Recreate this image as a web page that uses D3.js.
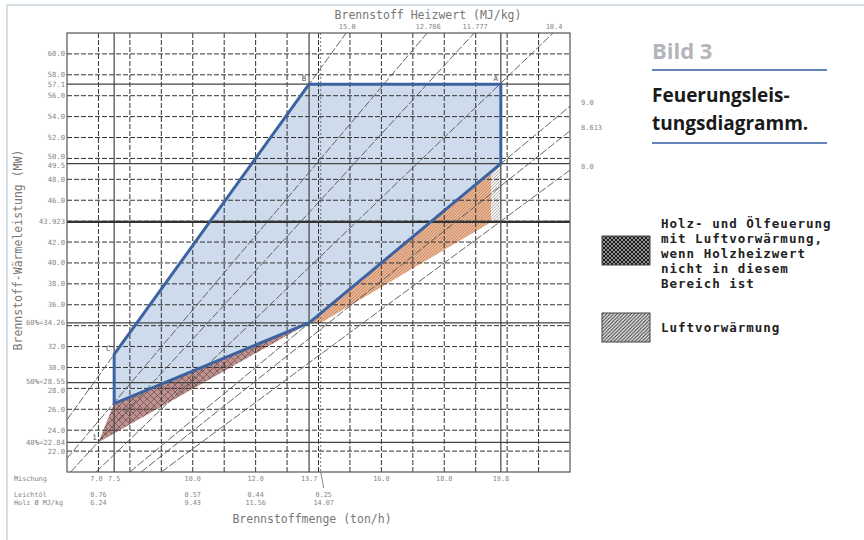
<!DOCTYPE html>
<html><head><meta charset="utf-8">
<script src="https://cdn.jsdelivr.net/npm/d3@7"></script>
<style>body{margin:0;background:#fff}svg{display:block}</style>
</head><body>
<svg id="c" width="864" height="540"></svg>
<script>
// ---------- data ----------
const xGridValues = [7,8,9,10,11,12,13,14,15,16,17,18,19,20,21];
const yGridValues = [22,24,26,28,30,32,34,36,38,40,42,44,46,48,50,52,54,56,58,60];
const xSolidValues = [7.5, 13.7, 19.8];
const xDottedValues = [14.07];
const ySolidValues = [57.1, 49.5, 34.26, 28.55, 22.84];
const yThickValues = [43.923];
const xTickValues = [7.0, 7.5, 10.0, 12.0, 13.7, 16.0, 18.0, 19.8];
const xTickLabels = ["7.0", "7.5", "10.0", "12.0", "13.7", "16.0", "18.0", "19.8"];
const yTickValues = [60, 58, 57.1, 56, 54, 52, 50, 49.5, 48, 46, 43.923, 42, 40, 38, 36, 34.26, 32, 30, 28.55, 28, 26, 24, 22.84, 22];
const yTickLabels = ["60.0","58.0","57.1","56.0","54.0","52.0","50.0","49.5","48.0","46.0","43.923","42.0","40.0","38.0","36.0","60%=34.26","32.0","30.0","50%=28.55","28.0","26.0","24.0","40%=22.84","22.0"];
const mixPositions = [7.0, 10.0, 12.0, 14.07];
const oilFlow = ["0.76", "0.57", "0.44", "0.25"];
const woodFlow = ["6.24", "9.43", "11.56", "14.07"];
const heatValues = [15.0, 12.786, 11.777, 10.4, 9.0, 8.613, 8.0];
const heatTopLabels = ["15.0", "12.786", "11.777", "10.4"];
const heatRightLabels = ["9.0", "8.613", "8.0"];
const firingArea = [[19.8,57.1],[13.7,57.1],[7.5,31.25],[7.5,26.55],[13.7,34.26],[19.8,49.5]];
const mixedArea = [[7.0,22.84],[7.5,26.55],[13.7,34.26]];
const airArea = [[13.7,34.26],[19.5,48.75],[19.5,43.923],[14.07,34.26]];
const airGreyArea = [[19.5,48.75],[19.8,49.5],[19.8,43.923],[19.5,43.923]];
const pointNames = ["A","B","C","1"];
const pointValues = [[19.8,57.1],[13.7,57.1],[7.5,31.25],[7.0,22.84]];

// ---------- setup ----------
const svg = d3.select("#c");
const x = d3.scaleLinear().domain([6,22]).range([67,570]);
const y = d3.scaleLinear().domain([20,62]).range([472,33]);
const mono = "'DejaVu Sans Mono', monospace";

// frame
svg.append("line").attr("x1",7).attr("y1",5).attr("x2",7).attr("y2",540).attr("stroke","#c6d3dc").attr("stroke-width",1.5);
svg.append("line").attr("x1",7).attr("y1",5).attr("x2",864).attr("y2",5).attr("stroke","#c6d3dc").attr("stroke-width",1.5);

// patterns
const defs = svg.append("defs");
function hatch(id, bg, color, w, size, both){
  const p = defs.append("pattern").attr("id",id).attr("patternUnits","userSpaceOnUse").attr("width",size).attr("height",size);
  p.append("rect").attr("width",size).attr("height",size).attr("fill",bg);
  p.append("path").attr("d",`M0,${size} L${size},0 M${-size/2},${size/2} L${size/2},${-size/2} M${size/2},${size*1.5} L${size*1.5},${size/2}`).attr("stroke",color).attr("stroke-width",w);
  if(both) p.append("path").attr("d",`M0,0 L${size},${size} M${-size/2},${size/2} L${size/2},${size*1.5} M${size/2},${-size/2} L${size*1.5},${size/2}`).attr("stroke",color).attr("stroke-width",w);
}
hatch("brown","#bb928f","#7a4e4e",0.8,7,true);
hatch("orange","#e9b391","#b57a58",0.6,3,false);
hatch("greyh","#f4f4f4","#8a8a8a",0.6,3,false);
hatch("leg1","#8e8e8e","#1e1e1e",1,4,true);
hatch("leg2","#e8e8e8","#333",1,3.5,false);

const clip = defs.append("clipPath").attr("id","plot");
clip.append("rect").attr("x",x(6)).attr("y",y(62)).attr("width",x(22)-x(6)).attr("height",y(20)-y(62));

const line = d3.line().x(d=>x(d[0])).y(d=>y(d[1]));

// areas
const g = svg.append("g").attr("clip-path","url(#plot)");
g.append("path").datum(firingArea).attr("d",d=>line(d)+"Z").attr("fill","#cddbec");
g.append("path").datum(mixedArea).attr("d",d=>line(d)+"Z").attr("fill","url(#brown)");
g.append("path").datum(airArea).attr("d",d=>line(d)+"Z").attr("fill","url(#orange)");
g.append("path").datum(airGreyArea).attr("d",d=>line(d)+"Z").attr("fill","url(#greyh)");

// grid
const gridColor = "#333";
g.selectAll(".vg").data(xGridValues).join("line").attr("x1",d=>x(d)).attr("x2",d=>x(d)).attr("y1",y(62)).attr("y2",y(20))
  .attr("stroke",gridColor).attr("stroke-width",1).attr("stroke-dasharray","5,2");
g.selectAll(".hg").data(yGridValues).join("line").attr("y1",d=>y(d)).attr("y2",d=>y(d)).attr("x1",x(6)).attr("x2",x(22))
  .attr("stroke",gridColor).attr("stroke-width",1).attr("stroke-dasharray","5,2");
g.selectAll(".vs").data(xSolidValues).join("line").attr("x1",d=>x(d)).attr("x2",d=>x(d)).attr("y1",y(62)).attr("y2",y(20))
  .attr("stroke","#444").attr("stroke-width",1.2);
g.selectAll(".vd").data(xDottedValues).join("line").attr("x1",d=>x(d)).attr("x2",d=>x(d)).attr("y1",y(62)).attr("y2",y(20))
  .attr("stroke","#777").attr("stroke-width",1).attr("stroke-dasharray","2,2");
g.selectAll(".hs").data(ySolidValues).join("line").attr("y1",d=>y(d)).attr("y2",d=>y(d)).attr("x1",x(6)).attr("x2",x(22))
  .attr("stroke","#444").attr("stroke-width",1.2);
g.selectAll(".ht").data(yThickValues).join("line").attr("y1",d=>y(d)).attr("y2",d=>y(d)).attr("x1",x(6)).attr("x2",x(22))
  .attr("stroke","#333").attr("stroke-width",2.2);

// heating value lines P = m*H/3.6
function seg(H){ const k=H/3.6; const m0=Math.max(6,20/k), m1=Math.min(22,62/k); return [[m0,m0*k],[m1,m1*k]]; }
g.selectAll(".hv").data(heatValues).join("path").attr("d",d=>line(seg(d)))
  .attr("stroke","#555").attr("stroke-width",0.9).attr("fill","none").attr("stroke-dasharray","8,2");

// firing area outline
g.append("path").datum(firingArea).attr("d",d=>line(d)+"Z").attr("fill","none").attr("stroke","#3c63a0").attr("stroke-width",3).attr("stroke-linejoin","round");

// border
svg.append("rect").attr("x",x(6)).attr("y",y(62)).attr("width",x(22)-x(6)).attr("height",y(20)-y(62)).attr("fill","none").attr("stroke","#555").attr("stroke-width",1.2);

// tick labels
const tickFill = "#858585";
const yNudge = {"50.0":-1.5,"49.5":2,"50%=28.55":-1.5,"28.0":2,"57.1":0.5,"58.0":-0.5};
svg.selectAll(".yl").data(yTickValues).join("text").attr("x",65).attr("y",(d,i)=>y(d)+2.5+(yNudge[yTickLabels[i]]||0)).attr("text-anchor","end")
  .attr("font-family",mono).attr("font-size",7.2).attr("fill",tickFill).text((d,i)=>yTickLabels[i]);
svg.selectAll(".xl").data(xTickValues).join("text").attr("x",(d,i)=>x(d)+(i===0?-2:i===1?0:0)).attr("y",481).attr("text-anchor","middle")
  .attr("font-family",mono).attr("font-size",6.8).attr("fill",tickFill).text((d,i)=>xTickLabels[i]);
svg.selectAll(".ol").data(mixPositions).join("text").attr("x",d=>x(d)+(d>14?3:0)).attr("y",497).attr("text-anchor","middle")
  .attr("font-family",mono).attr("font-size",6.8).attr("fill",tickFill).text((d,i)=>oilFlow[i]);
svg.selectAll(".wl").data(mixPositions).join("text").attr("x",d=>x(d)+(d>14?3:0)).attr("y",505).attr("text-anchor","middle")
  .attr("font-family",mono).attr("font-size",6.8).attr("fill",tickFill).text((d,i)=>woodFlow[i]);
svg.append("line").attr("x1",x(14.07)+3).attr("y1",488).attr("x2",x(14.07)).attr("y2",472).attr("stroke","#666").attr("stroke-width",0.8);
svg.append("text").attr("x",14).attr("y",481).attr("font-family",mono).attr("font-size",6.8).attr("fill",tickFill).text("Mischung");
svg.append("text").attr("x",14).attr("y",497).attr("font-family",mono).attr("font-size",6.8).attr("fill",tickFill).text("Leichtöl");
svg.append("text").attr("x",14).attr("y",505).attr("font-family",mono).attr("font-size",6.8).attr("fill",tickFill).text("Holz Ø MJ/kg");

// heating value labels
svg.selectAll(".tl").data(heatValues.slice(0,4)).join("text").attr("x",d=>x(62*3.6/d)+1).attr("y",29).attr("text-anchor","middle")
  .attr("font-family",mono).attr("font-size",7).attr("fill",tickFill).text((d,i)=>heatTopLabels[i]);
svg.selectAll(".rl").data(heatValues.slice(4)).join("text").attr("x",581).attr("y",d=>y(22*d/3.6)-1).attr("text-anchor","start")
  .attr("font-family",mono).attr("font-size",7).attr("fill",tickFill).text((d,i)=>heatRightLabels[i]);

// point names
svg.selectAll(".pn").data(pointValues).join("text")
  .attr("x",(d,i)=>x(d[0])+(i===0?-5:i===1?-5:i===2?-6:-4)).attr("y",(d,i)=>y(d[1])+(i<2?-3:i===2?-3:-2))
  .attr("text-anchor","middle").attr("font-family",mono).attr("font-size",7.5).attr("fill","#555").text((d,i)=>pointNames[i]);

// axis titles
svg.append("text").attr("x",428).attr("y",19).attr("text-anchor","middle").attr("font-family",mono).attr("font-size",11.5).attr("fill","#777").text("Brennstoff Heizwert (MJ/kg)");
svg.append("text").attr("x",312).attr("y",523).attr("text-anchor","middle").attr("font-family",mono).attr("font-size",11.5).attr("fill","#777").text("Brennstoffmenge (ton/h)");
svg.append("text").attr("transform","translate(22,250) rotate(-90)").attr("text-anchor","middle").attr("font-family",mono).attr("font-size",11.5).attr("fill","#777").text("Brennstoff-Wärmeleistung (MW)");

// title block
const sans = "'Open Sans', sans-serif";
svg.append("text").attr("x",652).attr("y",59).attr("font-family",sans).attr("font-weight","bold").attr("font-size",22).attr("fill","#b4b5ba").text("Bild 3");
svg.append("line").attr("x1",652).attr("x2",827).attr("y1",70).attr("y2",70).attr("stroke","#2d5aa0").attr("stroke-width",1.5);
svg.append("text").attr("x",652).attr("y",102).attr("font-family",sans).attr("font-weight","bold").attr("font-size",19).attr("fill","#1a1a1a").text("Feuerungsleis-");
svg.append("text").attr("x",652).attr("y",130).attr("font-family",sans).attr("font-weight","bold").attr("font-size",19).attr("fill","#1a1a1a").text("tungsdiagramm.");
svg.append("line").attr("x1",652).attr("x2",827).attr("y1",143).attr("y2",143).attr("stroke","#2d5aa0").attr("stroke-width",1.5);

// legend
const legendLines1 = ["Holz- und Ölfeuerung","mit Luftvorwärmung,","wenn Holzheizwert","nicht in diesem","Bereich ist"];
svg.append("rect").attr("x",602).attr("y",236).attr("width",48).attr("height",29).attr("fill","url(#leg1)").attr("stroke","#444");
svg.append("rect").attr("x",602).attr("y",313).attr("width",48).attr("height",29).attr("fill","url(#leg2)").attr("stroke","#444");
svg.selectAll(".lg").data(legendLines1).join("text").attr("x",661).attr("y",(d,i)=>228+i*15)
  .attr("font-family",mono).attr("font-weight","bold").attr("font-size",12.5).attr("letter-spacing",1).attr("fill","#222").text(d=>d);
svg.append("text").attr("x",661).attr("y",332).attr("font-family",mono).attr("font-weight","bold").attr("font-size",12.5).attr("letter-spacing",1).attr("fill","#222").text("Luftvorwärmung");
</script>
</body></html>
